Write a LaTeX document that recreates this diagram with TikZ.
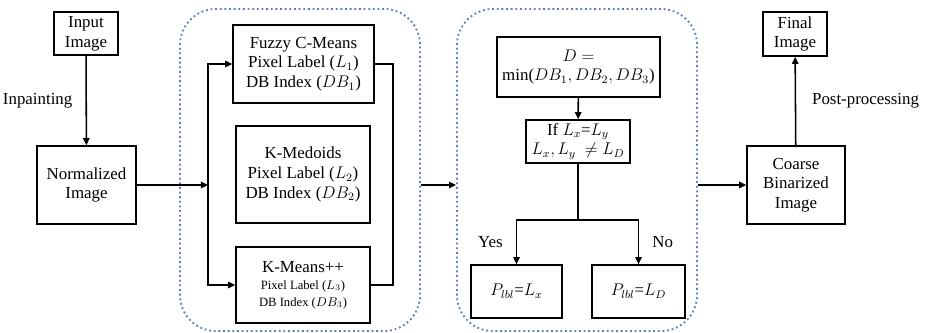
\documentclass[tikz,border=0pt]{standalone}
\usepackage{amsmath}
\usepackage{fontspec}
\setmainfont{Liberation Serif}
\usepackage{tikz}
\usetikzlibrary{arrows.meta, positioning, calc}
\definecolor{grpcolor}{RGB}{84,130,190}

\begin{document}
\begin{tikzpicture}[
    x=0.025cm, y=-0.025cm,
    >={Triangle[length=5pt, width=4.5pt]},
    font=\fontsize{12}{14}\selectfont,
    box/.style={draw, line width=1.1pt, align=center, inner sep=1pt},
    grp/.style={draw=grpcolor, dotted, line width=1.3pt, rounded corners=0.9cm, minimum width=6cm, minimum height=8.05cm},
    link/.style={line width=1.1pt},
    lbl/.style={font=\fontsize{12}{14}\selectfont},
]
    \useasboundingbox (0,0) rectangle (933,333);
    % containers
    \node[grp] (grpA) at (300,170) {};
    \node[grp] (grpB) at (577,170) {};
    % input side
    \node[box, minimum width=1.6cm, minimum height=1.075cm] (input) at (86,33.5) {Input\\Image};
    \node[box, minimum width=2.475cm, minimum height=1.95cm] (norm) at (86.5,185) {Normalized\\Image};
    % clustering
    \node[box, minimum width=3.525cm, minimum height=1.95cm] (fcm) at (303.5,64) {Fuzzy C-Means\\Pixel Label ($L_1$)\\DB Index ($DB_1$)};
    \node[box, minimum width=3.35cm, minimum height=2.425cm] (kmed) at (303,174.5) {K-Medoids\\Pixel Label ($L_2$)\\DB Index ($DB_2$)};
    \node[box, minimum width=3.35cm, minimum height=1.9cm] (kmpp) at (303,285) {K-Means++\\[-2pt]{\fontsize{9}{11}\selectfont Pixel Label ($L_3$)}\\[-2pt]{\fontsize{9}{11}\selectfont DB Index ($DB_3$)}};
    \coordinate (split) at (208,185);
    \coordinate (join) at (393,185);
    % decision
    \node[box, minimum width=4.075cm, minimum height=1.5cm] (dmin) at (578.5,67) {$D=$\\min($DB_1, DB_2, DB_3$)};
    \node[box, minimum width=2.6cm, minimum height=1.075cm] (cond) at (578,141.5) {If $L_x$=$L_y$\\$L_x, L_y\ \neq L_D$};
    \coordinate (fork) at (578,220);
    \node[box, minimum width=2.275cm, minimum height=1.325cm] (plx) at (516.5,291.5) {$P_{lbl}$=$L_x$};
    \node[box, minimum width=2.325cm, minimum height=1.325cm] (pld) at (638.5,291.5) {$P_{lbl}$=$L_D$};
    % output side
    \node[box, minimum width=2.45cm, minimum height=1.95cm] (coarse) at (796,185) {Coarse\\Binarized\\Image};
    \node[box, minimum width=1.6cm, minimum height=1.1cm] (final) at (795,34) {Final\\Image};

    \draw[->, link] (input) -- node[left=6pt, lbl] {Inpainting} (norm);
    \draw[->, link] (norm) -- (split);
    \draw[->, link] (split) |- (fcm.west);
    \draw[->, link] (split) |- (kmpp.west);
    \draw[link] (fcm.east) -| (join) |- (kmpp.east);
    \draw[->, link] (grpA.east |- norm) -- (grpB.west |- norm);
    \draw[->, link] (dmin) -- (cond);
    \draw[link] (cond) -- (fork);
    \draw[->, link] (fork) -| node[pos=0.75, left=6pt, lbl] {Yes} (plx.north);
    \draw[->, link] (fork) -| node[pos=0.75, right=6pt, lbl] {No} (pld.north);
    \draw[->, link] (grpB.east |- coarse) -- (coarse);
    \draw[->, link] (coarse) -- node[right=8pt, lbl] {Post-processing} (final);
\end{tikzpicture}
\end{document}
